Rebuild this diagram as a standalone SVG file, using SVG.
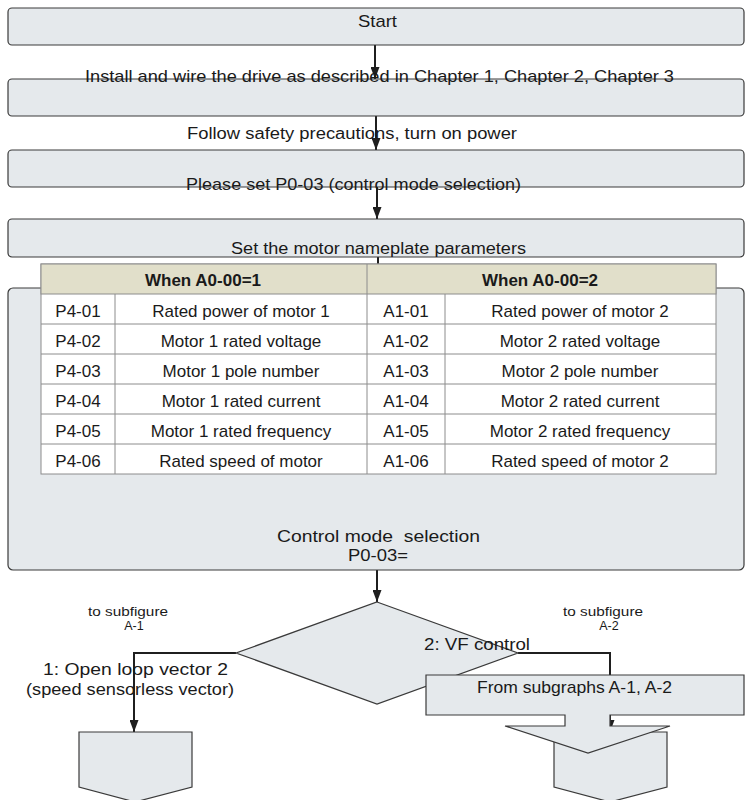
<svg xmlns="http://www.w3.org/2000/svg" width="745" height="800" viewBox="0 0 745 800">
<defs>
<marker id="ah" viewBox="0 0 12 9" markerWidth="12" markerHeight="9" refX="12" refY="4.5" orient="auto" markerUnits="userSpaceOnUse"><path d="M0,0 L12,4.5 L0,9 z" fill="#1f1f1f"/></marker>
<style>
.box{fill:#e5e9ec;stroke:#3a3a3a;stroke-width:1.2}
.t{font-family:"Liberation Sans",Arial,sans-serif;fill:#1a1a1a}
.c{stroke:#1f1f1f;stroke-width:2;fill:none}
.tb{fill:#ffffff;stroke:#8c8c8c;stroke-width:1}
.th{fill:#e1dfca;stroke:#8c8c8c;stroke-width:1}
.tl{stroke:#8c8c8c;stroke-width:1}
.m{text-anchor:middle}
.b{font-weight:bold}
</style>
</defs>
<rect width="745" height="800" fill="#ffffff"/>
<g id="connectors">
<path class="c" d="M375,45 V79" marker-end="url(#ah)"/>
<path class="c" d="M376,116 V150" marker-end="url(#ah)"/>
<path class="c" d="M377,187 V219" marker-end="url(#ah)"/>
<path class="c" d="M378,257 V288" marker-end="url(#ah)"/>
<path class="c" d="M377,570 V602" marker-end="url(#ah)"/>
<path class="c" d="M236,653 H134 V732" marker-end="url(#ah)"/>
<path class="c" d="M518,653 H610 V732" marker-end="url(#ah)"/>
</g>
<g id="start">
<rect class="box" x="8" y="8" width="736" height="37" rx="4"/>
<text class="t" x="358" y="27" font-size="17" textLength="39" lengthAdjust="spacingAndGlyphs">Start</text>
</g>
<g id="install">
<rect class="box" x="8" y="79" width="736" height="37" rx="4"/>
<text class="t" x="85" y="82" font-size="17" textLength="589" lengthAdjust="spacingAndGlyphs">Install and wire the drive as described in Chapter 1, Chapter 2, Chapter 3</text>
</g>
<g id="power">
<rect class="box" x="8" y="150" width="736" height="37" rx="4"/>
<text class="t" x="187" y="139" font-size="16" textLength="330" lengthAdjust="spacingAndGlyphs">Follow safety precautions, turn on power</text>
</g>
<g id="setmode">
<rect class="box" x="8" y="219" width="736" height="38" rx="4"/>
<text class="t" x="186" y="190" font-size="17" textLength="335" lengthAdjust="spacingAndGlyphs">Please set P0-03 (control mode selection)</text>
<text class="t" x="231" y="254" font-size="16" textLength="295" lengthAdjust="spacingAndGlyphs">Set the motor nameplate parameters</text>
</g>
<g id="nameplate">
<rect class="box" x="8" y="288" width="736" height="282" rx="5"/>
<rect class="tb" x="41" y="264" width="675" height="210"/>
<rect class="th" x="41" y="264" width="675" height="30"/>
<line class="tl" x1="367" y1="264" x2="367" y2="474"/>
<line class="tl" x1="115" y1="294" x2="115" y2="474"/>
<line class="tl" x1="445" y1="294" x2="445" y2="474"/>
<line class="tl" x1="41" y1="324" x2="716" y2="324"/>
<line class="tl" x1="41" y1="354" x2="716" y2="354"/>
<line class="tl" x1="41" y1="384" x2="716" y2="384"/>
<line class="tl" x1="41" y1="414" x2="716" y2="414"/>
<line class="tl" x1="41" y1="444" x2="716" y2="444"/>
<g class="t" font-size="17">
<text class="m b" x="203" y="286">When A0-00=1</text>
<text class="m b" x="540" y="286">When A0-00=2</text>
<text class="m" x="78" y="317">P4-01</text>
<text class="m" x="241" y="317">Rated power of motor 1</text>
<text class="m" x="406" y="317">A1-01</text>
<text class="m" x="580" y="317">Rated power of motor 2</text>
<text class="m" x="78" y="347">P4-02</text>
<text class="m" x="241" y="347">Motor 1 rated voltage</text>
<text class="m" x="406" y="347">A1-02</text>
<text class="m" x="580" y="347">Motor 2 rated voltage</text>
<text class="m" x="78" y="377">P4-03</text>
<text class="m" x="241" y="377">Motor 1 pole number</text>
<text class="m" x="406" y="377">A1-03</text>
<text class="m" x="580" y="377">Motor 2 pole number</text>
<text class="m" x="78" y="407">P4-04</text>
<text class="m" x="241" y="407">Motor 1 rated current</text>
<text class="m" x="406" y="407">A1-04</text>
<text class="m" x="580" y="407">Motor 2 rated current</text>
<text class="m" x="78" y="437">P4-05</text>
<text class="m" x="241" y="437">Motor 1 rated frequency</text>
<text class="m" x="406" y="437">A1-05</text>
<text class="m" x="580" y="437">Motor 2 rated frequency</text>
<text class="m" x="78" y="467">P4-06</text>
<text class="m" x="241" y="467">Rated speed of motor</text>
<text class="m" x="406" y="467">A1-06</text>
<text class="m" x="580" y="467">Rated speed of motor 2</text>
</g>
<text class="t" x="277" y="542" font-size="16" xml:space="preserve" textLength="203" lengthAdjust="spacingAndGlyphs">Control mode  selection</text>
<text class="t" x="348" y="561" font-size="16" textLength="60" lengthAdjust="spacingAndGlyphs">P0-03=</text>
</g>
<g id="decision">
<path class="box" d="M377,602 L518,653 L377,704 L236,653 Z"/>
<text class="t" x="43" y="675" font-size="17" textLength="185" lengthAdjust="spacingAndGlyphs">1: Open loop vector 2</text>
<text class="t" x="26" y="695" font-size="17" textLength="208" lengthAdjust="spacingAndGlyphs">(speed sensorless vector)</text>
<text class="t" x="424" y="650" font-size="16" textLength="106" lengthAdjust="spacingAndGlyphs">2: VF control</text>
</g>
<g id="subA1">
<path class="box" d="M79,732 H192 V787 L135,802 L79,787 Z"/>
<text class="t" x="88" y="616" font-size="12.5" textLength="80" lengthAdjust="spacingAndGlyphs">to subfigure</text>
<text class="t m" x="134" y="630" font-size="12.5">A-1</text>
</g>
<g id="subA2">
<path class="box" d="M554,732 H667 V787 L610,802 L554,787 Z"/>
<text class="t" x="563" y="616" font-size="12.5" textLength="80" lengthAdjust="spacingAndGlyphs">to subfigure</text>
<text class="t m" x="609" y="630" font-size="12.5">A-2</text>
</g>
<g id="fromsub">
<path class="box" d="M426,675 H744 V715 H610 V726 H670 L588,753 L505,726 H565 V715 H426 Z"/>
<text class="t" x="477" y="693" font-size="17" textLength="195" lengthAdjust="spacingAndGlyphs">From subgraphs A-1, A-2</text>
</g>
</svg>
